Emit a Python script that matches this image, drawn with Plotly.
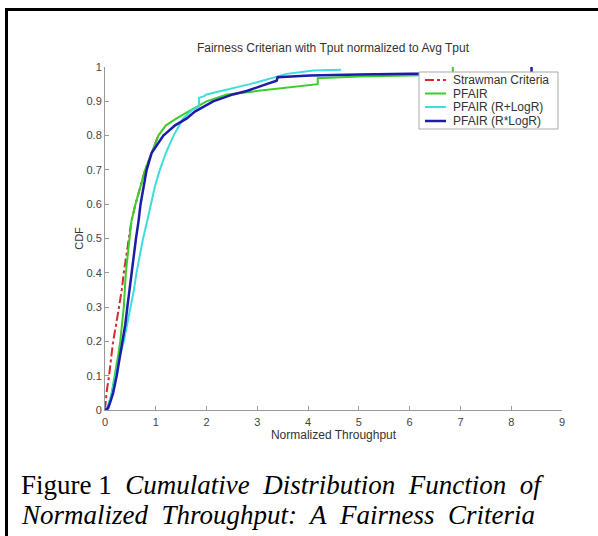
import plotly.graph_objects as go

# ---- data ----
strawman_x = [0, 0.03, 0.08, 0.12, 0.16, 0.22, 0.28, 0.33, 0.37, 0.42, 0.48, 0.52, 0.6, 0.7, 0.79, 0.92, 1.05]
strawman_y = [0, 0.05, 0.10, 0.15, 0.20, 0.25, 0.30, 0.35, 0.40, 0.45, 0.50, 0.55, 0.6, 0.65, 0.70, 0.75, 0.80]

pfair_x = [0, 0.06, 0.12, 0.17, 0.21, 0.26, 0.30, 0.37, 0.41, 0.48, 0.52, 0.6, 0.7, 0.79, 0.92, 1.05, 1.2, 1.41, 1.7, 2.0, 2.4, 3.0, 3.6, 4.19, 4.19, 5.0, 6.0, 6.85, 6.85]
pfair_y = [0, 0.01, 0.04, 0.08, 0.12, 0.16, 0.20, 0.30, 0.40, 0.50, 0.55, 0.60, 0.65, 0.70, 0.75, 0.80, 0.83, 0.85, 0.875, 0.90, 0.92, 0.93, 0.94, 0.95, 0.967, 0.972, 0.975, 0.978, 1.0]

rlogr_plus_x = [0, 0.05, 0.12, 0.2, 0.28, 0.37, 0.44, 0.51, 0.57, 0.62, 0.68, 0.75, 0.83, 0.9, 0.98, 1.08, 1.2, 1.35, 1.54, 1.72, 1.85, 1.85, 1.95, 2.0, 2.3, 2.59, 2.85, 3.1, 3.35, 3.58, 4.1, 4.65]
rlogr_plus_y = [0, 0.01, 0.04, 0.10, 0.15, 0.20, 0.25, 0.30, 0.35, 0.40, 0.45, 0.50, 0.55, 0.60, 0.65, 0.70, 0.75, 0.80, 0.85, 0.875, 0.885, 0.91, 0.915, 0.92, 0.93, 0.94, 0.95, 0.96, 0.97, 0.98, 0.99, 0.992]

rlogr_times_x = [0, 0.06, 0.12, 0.16, 0.23, 0.29, 0.35, 0.40, 0.44, 0.48, 0.52, 0.57, 0.61, 0.66, 0.70, 0.76, 0.82, 0.92, 1.05, 1.15, 1.38, 1.61, 1.77, 2.13, 2.52, 2.79, 3.18, 3.38, 3.4, 4.04, 5.0, 6.0, 8.4, 8.4]
rlogr_times_y = [0, 0.005, 0.03, 0.05, 0.10, 0.15, 0.20, 0.25, 0.30, 0.35, 0.40, 0.45, 0.50, 0.55, 0.60, 0.65, 0.70, 0.75, 0.78, 0.80, 0.83, 0.85, 0.87, 0.90, 0.92, 0.93, 0.95, 0.96, 0.97, 0.975, 0.978, 0.98, 0.982, 1.0]

series_names = ["Strawman Criteria", "PFAIR", "PFAIR (R+LogR)", "PFAIR (R*LogR)"]
series_colors = ["#d42a2a", "#3ccc2c", "#3fdcdc", "#1c1ca8"]
series_dash = ["dashdot", "solid", "solid", "solid"]
series_width = [2, 2, 2, 2.5]

x_ticks = [0, 1, 2, 3, 4, 5, 6, 7, 8, 9]
y_ticks = [0, 0.1, 0.2, 0.3, 0.4, 0.5, 0.6, 0.7, 0.8, 0.9, 1]
y_tick_labels = ["0", "0.1", "0.2", "0.3", "0.4", "0.5", "0.6", "0.7", "0.8", "0.9", "1"]

caption_line1 = "Figure 1&nbsp; <i>Cumulative&nbsp; Distribution&nbsp; Function&nbsp; of</i>"
caption_line2 = "<i>Normalized&nbsp; Throughput:&nbsp; A&nbsp; Fairness&nbsp; Criteria</i>"

# ---- layout geometry (pixels) ----
W, H = 598, 536
L, R, T, B = 105, 36, 67, 126
PW, PH = W - L - R, H - T - B


def px(xp):
    return (xp - L) / PW


def py(yp):
    return (H - B - yp) / PH


xs = [strawman_x, pfair_x, rlogr_plus_x, rlogr_times_x]
ys = [strawman_y, pfair_y, rlogr_plus_y, rlogr_times_y]

fig = go.Figure()
for i in range(4):
    fig.add_trace(go.Scatter(x=xs[i], y=ys[i], mode="lines", name=series_names[i], showlegend=False,
                             line=dict(color=series_colors[i], width=series_width[i], dash=series_dash[i])))

sans = "Liberation Sans, Arial, sans-serif"
axis_font = dict(family=sans, size=11, color="#444")
fig.update_layout(
    width=W, height=H,
    margin=dict(l=L, r=R, t=T, b=B),
    paper_bgcolor="white", plot_bgcolor="white",
    showlegend=False,
    title=dict(text="Fairness Criterian with Tput normalized to Avg Tput",
               font=dict(family=sans, size=12, color="#333"),
               x=px(333), xanchor="center", xref="paper", y=1 - 48 / H, yanchor="middle"),
    xaxis=dict(range=[0, 9], tickvals=x_ticks, ticks="inside", ticklen=4, tickcolor="#999",
               showline=True, linecolor="#999", linewidth=1, showgrid=False, zeroline=False,
               tickfont=axis_font, ticklabelstandoff=2,
               title=dict(text="Normalized Throughput", font=dict(family=sans, size=12, color="#333"), standoff=1)),
    yaxis=dict(range=[0, 1], tickvals=y_ticks, ticktext=y_tick_labels, ticks="inside", ticklen=4,
               tickcolor="#999", showline=True, linecolor="#999", linewidth=1, showgrid=False,
               zeroline=False, tickfont=axis_font,
               title=dict(text="CDF", font=dict(family=sans, size=11, color="#333"), standoff=0)),
)

# legend drawn as a box with samples and labels
fig.add_shape(type="rect", xref="paper", yref="paper", x0=px(419), x1=px(558), y0=py(72), y1=py(129),
              line=dict(color="#aaa", width=1), fillcolor="white", layer="above")
row_y = [80, 93.5, 107, 121]
for i in range(4):
    fig.add_shape(type="line", xref="paper", yref="paper", x0=px(425), x1=px(446), y0=py(row_y[i]), y1=py(row_y[i]),
                  line=dict(color=series_colors[i], width=series_width[i], dash=series_dash[i]), layer="above")
    fig.add_annotation(xref="paper", yref="paper", x=px(451), y=py(row_y[i]), xanchor="left", yanchor="middle",
                       showarrow=False, text=series_names[i], font=dict(family=sans, size=12, color="#333"))

# outer frame (top and left border of the figure box)
fig.add_shape(type="line", xref="paper", yref="paper", x0=px(5), x1=px(598), y0=py(9.5), y1=py(9.5),
              line=dict(color="black", width=3))
fig.add_shape(type="line", xref="paper", yref="paper", x0=px(6.5), x1=px(6.5), y0=py(8), y1=py(540),
              line=dict(color="black", width=3))

cap_font = dict(family="Liberation Serif, Times New Roman, serif", size=27, color="black")
fig.add_annotation(xref="paper", yref="paper", x=px(19), y=py(485), xanchor="left", yanchor="middle",
                   showarrow=False, font=cap_font, text=caption_line1)
fig.add_annotation(xref="paper", yref="paper", x=px(19), y=py(515), xanchor="left", yanchor="middle",
                   showarrow=False, font=cap_font, text=caption_line2)

fig.write_html("out.html", config={"displayModeBar": False},
               post_script="document.body.style.margin='0';")
